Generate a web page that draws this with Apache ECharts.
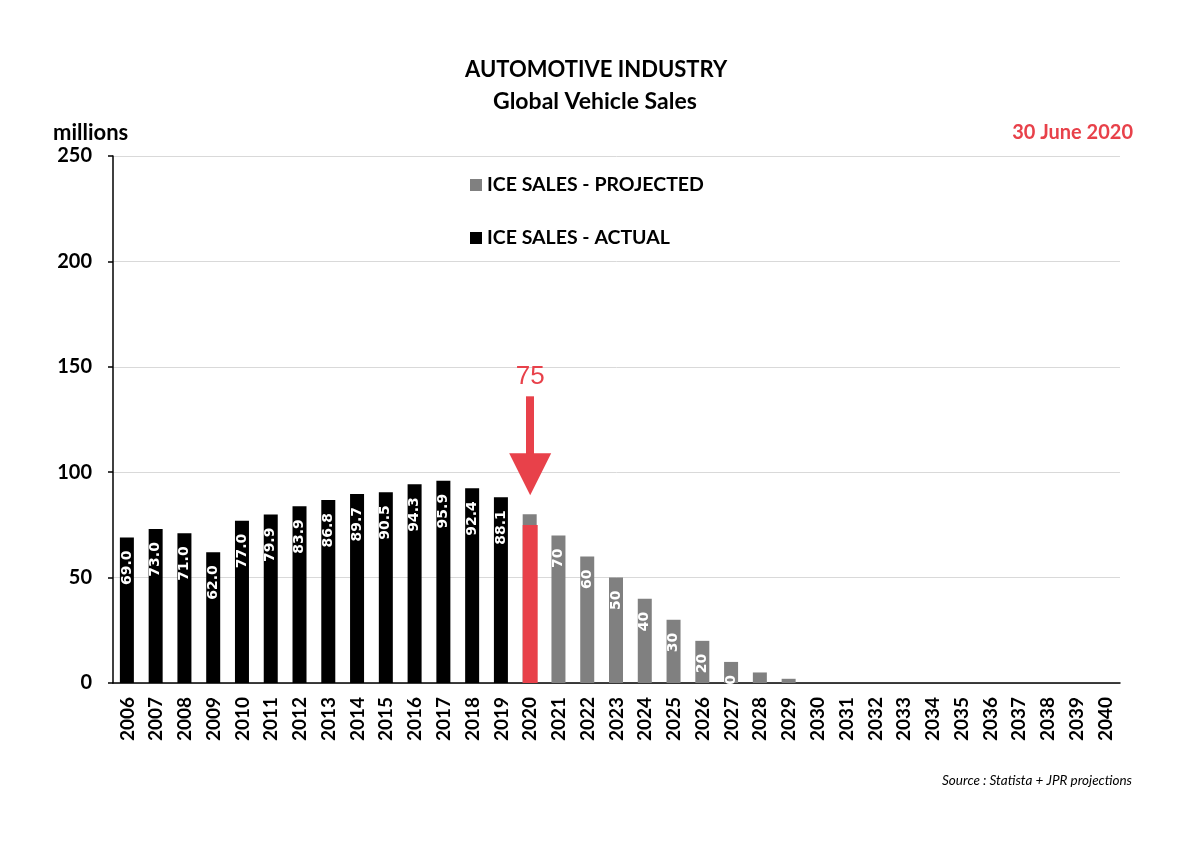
<!DOCTYPE html>
<html>
<head>
<meta charset="utf-8">
<script src="https://cdn.jsdelivr.net/npm/echarts@6/dist/echarts.min.js"></script>
<style>html,body{margin:0;padding:0;background:#fff;}#c{width:1200px;height:851px;}</style>
</head>
<body>
<div id="c"></div>
<script>
const years = ['2006','2007','2008','2009','2010','2011','2012','2013','2014','2015','2016','2017','2018','2019','2020','2021','2022','2023','2024','2025','2026','2027','2028','2029','2030','2031','2032','2033','2034','2035','2036','2037','2038','2039','2040'];
const actual = [69.0,73.0,71.0,62.0,77.0,79.9,83.9,86.8,89.7,90.5,94.3,95.9,92.4,88.1,null,null,null,null,null,null,null,null,null,null,null,null,null,null,null,null,null,null,null,null,null];
const projected = [null,null,null,null,null,null,null,null,null,null,null,null,null,null,80,70,60,50,40,30,20,10,5,2,0,0,0,0,0,0,0,0,0,0,0];
const current2020 = [null,null,null,null,null,null,null,null,null,null,null,null,null,null,75,null,null,null,null,null,null,null,null,null,null,null,null,null,null,null,null,null,null,null,null];
const yTicks = [0,50,100,150,200,250];
const arrowLabel = '75';

const RED = '#e8414a';
const GRAY = '#808080';
const FONT = 'Lato';

const chart = echarts.init(document.getElementById('c'));
chart.setOption({
  backgroundColor: '#fff',
  animation: false,
  title: [
    { text: 'AUTOMOTIVE INDUSTRY', left: 460, top: 54,
      textStyle: { fontFamily: FONT, fontWeight: 'bold', fontSize: 22, color: '#000' } },
    { text: 'Global Vehicle Sales', left: 488, top: 85,
      textStyle: { fontFamily: FONT, fontWeight: 'bold', fontSize: 23, color: '#000' } },
    { text: 'millions', left: 48, top: 117,
      textStyle: { fontFamily: FONT, fontWeight: 'bold', fontSize: 22, color: '#000' } },
    { text: '30 June 2020', right: 62, top: 118,
      textStyle: { fontFamily: FONT, fontWeight: 'bold', fontSize: 20, color: RED } },
    { text: 'Source : Statista + JPR projections', right: 63, top: 769,
      textStyle: { fontFamily: FONT, fontStyle: 'italic', fontWeight: 'normal', fontSize: 13.5, color: '#000' } }
  ],
  legend: {
    data: ['ICE SALES - PROJECTED', 'ICE SALES - ACTUAL'],
    orient: 'vertical', left: 465, top: 170,
    itemWidth: 12, itemHeight: 12, itemGap: 33,
    icon: 'rect',
    textStyle: { fontFamily: FONT, fontWeight: 'bold', fontSize: 19.5, color: '#000', lineHeight: 20 }
  },
  grid: { left: 113, right: 80, top: 156, bottom: 168, containLabel: false },
  xAxis: {
    type: 'category', data: years,
    axisLine: { show: true, lineStyle: { color: '#000', width: 1.5 } },
    axisTick: { show: false },
    axisLabel: { rotate: 90, interval: 0, margin: 14, fontFamily: FONT, fontWeight: 'bold', fontSize: 19, color: '#000' }
  },
  yAxis: {
    type: 'value', min: yTicks[0], max: yTicks[yTicks.length-1], interval: 50,
    axisLine: { show: true, lineStyle: { color: '#000', width: 1.5 } },
    axisTick: { show: true, length: 5, lineStyle: { color: '#000', width: 1.5 } },
    splitLine: { show: true, lineStyle: { color: '#d9d9d9', width: 1 } },
    axisLabel: { margin: 21, fontFamily: FONT, fontWeight: 'bold', fontSize: 20, color: '#000' }
  },
  series: [
    { name: 'ICE SALES - ACTUAL', type: 'bar', data: actual, barWidth: 14, barGap: '-100%',
      itemStyle: { color: '#000' },
      label: { show: true, position: 'insideTop', rotate: 90, align: 'right', verticalAlign: 'middle', distance: 13,
        fontFamily: 'DejaVu Sans', fontWeight: 'bold', fontSize: 14, color: '#fff',
        formatter: p => p.value == null ? '' : Number(p.value).toFixed(1) } },
    { name: 'ICE SALES - PROJECTED', type: 'bar', data: projected, barWidth: 14, barGap: '-100%',
      itemStyle: { color: GRAY },
      label: { show: true, position: 'insideTop', rotate: 90, align: 'right', verticalAlign: 'middle', distance: 13,
        fontFamily: 'DejaVu Sans', fontWeight: 'bold', fontSize: 14, color: '#fff',
        formatter: p => (p.value == null || p.value < 5 || p.dataIndex === 14) ? '' : String(p.value) } },
    { name: 'current', type: 'bar', data: current2020, barWidth: 15, barGap: '-100%',
      itemStyle: { color: RED },
      markLine: {
        silent: true, symbol: ['none', 'triangle'], symbolSize: [42, 42],
        lineStyle: { color: RED, width: 8, type: 'solid' },
        label: { show: true, position: 'start', formatter: arrowLabel, color: RED, fontSize: 26,
          fontFamily: 'Liberation Sans', distance: 6 },
        data: [[{ coord: ['2020', 136] }, { coord: ['2020', 99] }]]
      } }
  ]
});
</script>
</body>
</html>
